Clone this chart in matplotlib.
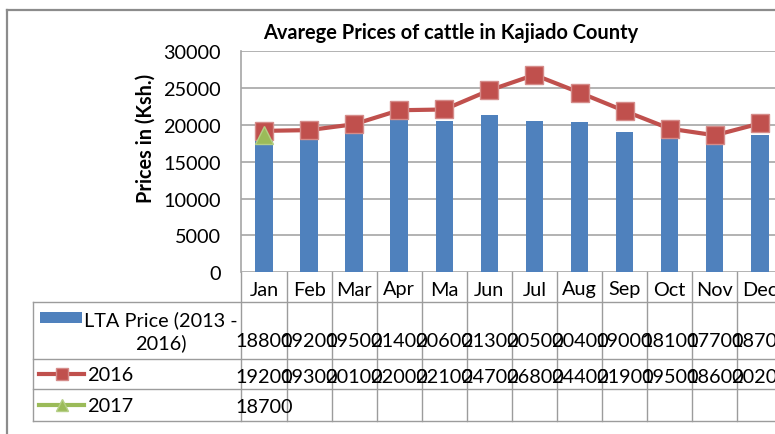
import matplotlib
matplotlib.use('Agg')
import matplotlib.pyplot as plt
import matplotlib.transforms as mtransforms
from matplotlib.lines import Line2D
from matplotlib.patches import Rectangle

months = ['Jan', 'Feb', 'Mar', 'Apr', 'Ma', 'Jun', 'Jul', 'Aug', 'Sep', 'Oct', 'Nov', 'Dec']
lta_price = [18800, 19200, 19500, 21400, 20600, 21300, 20500, 20400, 19000, 18100, 17700, 18700]
price_2016 = [19200, 19300, 20100, 22000, 22100, 24700, 26800, 24400, 21900, 19500, 18600, 20200]
price_2017 = [18700]
yticks = [0, 5000, 10000, 15000, 20000, 25000, 30000]

series_names = ['LTA Price (2013 -\n2016)', '2016', '2017']

blue = '#4F81BD'
red = '#C0504D'
green = '#9BBB59'
gridc = '#A6A6A6'
tablec = '#9C9C9C'
fs = 14.3

plt.rcParams['font.family'] = ['Lato', 'DejaVu Sans']

W, H = 775, 435
fig = plt.figure(figsize=(W / 100, H / 100), dpi=100)
fig.patch.set_facecolor('white')


def fx(px):
    return px / W


def fy(py):
    return 1 - py / H


# plot area in pixel coords (the chart is cropped on the right)
ax_left, ax_right, ax_top, ax_bottom = 241.5, 782.3, 52.3, 273.3
ax = fig.add_axes([fx(ax_left), fy(ax_bottom), (ax_right - ax_left) / W, (ax_bottom - ax_top) / H])

x = list(range(len(months)))
ax.bar(x, lta_price, width=0.39, color=blue, zorder=2)
ax.plot(x, price_2016, color=red, lw=3, marker='s', ms=13, mfc=red, mec='#D58C8A', mew=1, zorder=3)
ax.plot(x[:len(price_2017)], price_2017, color=green, lw=3, marker='^', ms=13, mfc=green, mec='#B5CF86', mew=1, zorder=4)

ax.set_xlim(-0.5, len(months) - 0.5)
ax.set_ylim(0, 30000)
ax.set_yticks(yticks)
ax.set_yticklabels([str(v) for v in yticks], fontsize=fs)
ax.tick_params(axis='y', length=0, pad=15)
ax.set_xticks([])
ax.grid(axis='y', color=gridc, lw=1.2, zorder=0)
for s in ['top', 'right', 'bottom']:
    ax.spines[s].set_visible(False)
ax.spines['left'].set_color(gridc)
ax.spines['left'].set_linewidth(1.2)

# title and axis label
fig.text(fx(451), fy(38.7), 'Avarege Prices of cattle in Kajiado County', ha='center', va='baseline',
         fontsize=14.4, fontweight='bold')
fig.text(fx(151.7), fy(138), 'Prices in (Ksh.)', rotation=90, ha='center', va='baseline',
         fontsize=fs, fontweight='bold', rotation_mode='anchor')

# outer chart border
fig.add_artist(Line2D([fx(7), fx(7)], [fy(10.7), fy(440)], transform=fig.transFigure, color='#8C8C8C', lw=1.6))
fig.add_artist(Line2D([fx(7), fx(780)], [fy(10.7), fy(10.7)], transform=fig.transFigure, color='#8C8C8C', lw=1.6))

# data table below the plot area
row_lines = [273.3, 303.3, 360, 390, 421.7]
trans = mtransforms.blended_transform_factory(ax.transData, fig.transFigure)
for i in range(len(months) + 1):
    ax.add_line(Line2D([i - 0.5, i - 0.5], [fy(row_lines[0]), fy(row_lines[-1])], transform=trans,
                       color=tablec, lw=1, clip_on=False))
for ry in row_lines[1:]:
    fig.add_artist(Line2D([fx(33.3), fx(785)], [fy(ry), fy(ry)], transform=fig.transFigure, color=tablec, lw=1))
fig.add_artist(Line2D([fx(33.3), fx(33.3)], [fy(row_lines[1]), fy(row_lines[-1])], transform=fig.transFigure,
                      color=tablec, lw=1))

for i, m in enumerate(months):
    ax.text(i, fy(295.5), m, transform=trans, ha='center', va='baseline', fontsize=fs, clip_on=False)

rows = [lta_price, price_2016, price_2017]
baselines = [347.5, 383.5, 413.5]
for vals, b in zip(rows, baselines):
    for i, v in enumerate(vals):
        ax.text(i, fy(b), str(v), transform=trans, ha='center', va='baseline', fontsize=fs, clip_on=False)

# legend keys in the first column
fig.add_artist(Rectangle((fx(40), fy(324)), fx(82) - fx(40), fy(313.3) - fy(324), transform=fig.transFigure,
                         facecolor=blue, edgecolor='none'))
first, second = series_names[0].split('\n')
fig.text(fx(161), fy(326), first, ha='center', va='baseline', fontsize=fs)
fig.text(fx(161), fy(349.3), second, ha='center', va='baseline', fontsize=fs)

fig.add_artist(Line2D([fx(39), fx(84)], [fy(375), fy(375)], transform=fig.transFigure, color=red, lw=3))
fig.add_artist(Line2D([fx(61.5)], [fy(375)], transform=fig.transFigure, marker='s', ms=9, color=red, mec='#D58C8A'))
fig.text(fx(87.3), fy(380.7), series_names[1], ha='left', va='baseline', fontsize=fs)

fig.add_artist(Line2D([fx(39), fx(84)], [fy(405.7), fy(405.7)], transform=fig.transFigure, color=green, lw=3))
fig.add_artist(Line2D([fx(61.5)], [fy(405.7)], transform=fig.transFigure, marker='^', ms=9, color=green, mec='#B5CF86'))
fig.text(fx(87.3), fy(411.7), series_names[2], ha='left', va='baseline', fontsize=fs)

fig.savefig('out.png', dpi=100)
